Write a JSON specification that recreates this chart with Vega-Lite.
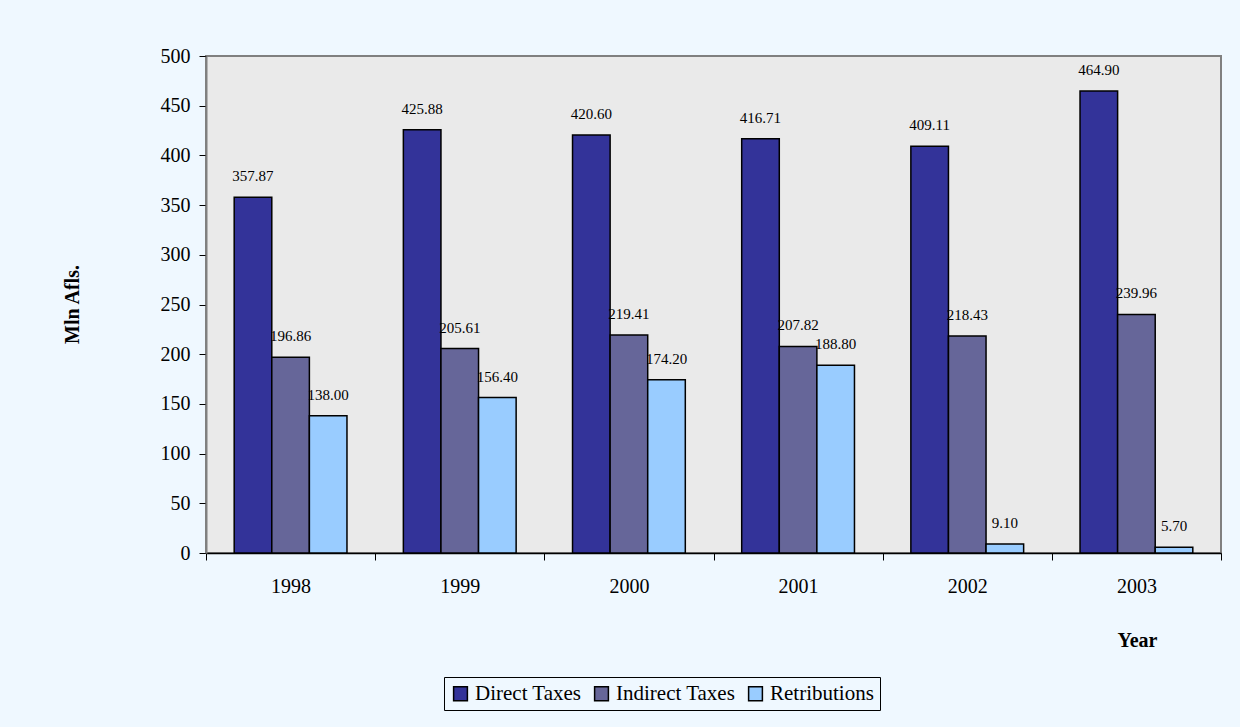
{
  "$schema": "https://vega.github.io/schema/vega-lite/v6.json",
  "width": 1015,
  "height": 497,
  "autosize": {"type": "none"},
  "padding": {"left": 206, "top": 56, "right": 19, "bottom": 174},
  "background": "#EFF8FF",
  "config": {
    "font": "Liberation Serif",
    "view": {"fill": "#EAEAEA", "stroke": "#808080", "strokeWidth": 2},
    "legend": {"labelFont": "Liberation Serif"},
    "axis": {"labelFont": "Liberation Serif", "titleFont": "Liberation Serif"},
    "text": {"font": "Liberation Serif"}
  },
  "data": {
    "values": [
      {"year": "1998", "type": "Direct Taxes", "value": 357.87},
      {"year": "1998", "type": "Indirect Taxes", "value": 196.86},
      {"year": "1998", "type": "Retributions", "value": 138.00},
      {"year": "1999", "type": "Direct Taxes", "value": 425.88},
      {"year": "1999", "type": "Indirect Taxes", "value": 205.61},
      {"year": "1999", "type": "Retributions", "value": 156.40},
      {"year": "2000", "type": "Direct Taxes", "value": 420.60},
      {"year": "2000", "type": "Indirect Taxes", "value": 219.41},
      {"year": "2000", "type": "Retributions", "value": 174.20},
      {"year": "2001", "type": "Direct Taxes", "value": 416.71},
      {"year": "2001", "type": "Indirect Taxes", "value": 207.82},
      {"year": "2001", "type": "Retributions", "value": 188.80},
      {"year": "2002", "type": "Direct Taxes", "value": 409.11},
      {"year": "2002", "type": "Indirect Taxes", "value": 218.43},
      {"year": "2002", "type": "Retributions", "value": 9.10},
      {"year": "2003", "type": "Direct Taxes", "value": 464.90},
      {"year": "2003", "type": "Indirect Taxes", "value": 239.96},
      {"year": "2003", "type": "Retributions", "value": 5.70}
    ]
  },
  "encoding": {
    "x": {
      "field": "year",
      "type": "nominal",
      "scale": {"paddingInner": 0, "paddingOuter": 0},
      "axis": {
        "labelAngle": 0,
        "tickBand": "extent",
        "tickSize": 7,
        "tickColor": "#000",
        "domainColor": "#000",
        "domainWidth": 1.5,
        "labelFontSize": 20,
        "labelColor": "#000",
        "labelPadding": 16,
        "title": "Year",
        "titleFontSize": 20,
        "titleFontWeight": "bold",
        "titleColor": "#000",
        "titleX": 931,
        "titleY": 87,
        "titleAlign": "center",
        "titleBaseline": "middle"
      }
    },
    "xOffset": {
      "field": "type",
      "type": "nominal",
      "sort": ["Direct Taxes", "Indirect Taxes", "Retributions"],
      "scale": {"paddingOuter": 0.75, "paddingInner": 0}
    },
    "y": {
      "field": "value",
      "type": "quantitative",
      "scale": {"domain": [0, 500], "nice": false},
      "axis": {
        "values": [0, 50, 100, 150, 200, 250, 300, 350, 400, 450, 500],
        "grid": false,
        "tickSize": 7,
        "tickColor": "#000",
        "domainColor": "#808080",
        "domainWidth": 2,
        "labelFontSize": 20,
        "labelColor": "#000",
        "labelPadding": 9,
        "title": "Mln Afls.",
        "titleFontSize": 20,
        "titleFontWeight": "bold",
        "titleColor": "#000",
        "titleX": -134,
        "titleY": 248,
        "titleAngle": -90,
        "titleAlign": "center",
        "titleBaseline": "middle"
      }
    }
  },
  "layer": [
    {
      "mark": {"type": "bar", "stroke": "#000", "strokeWidth": 1.5},
      "encoding": {
        "color": {
          "field": "type",
          "type": "nominal",
          "sort": ["Direct Taxes", "Indirect Taxes", "Retributions"],
          "scale": {
            "domain": ["Direct Taxes", "Indirect Taxes", "Retributions"],
            "range": ["#333399", "#666699", "#99CCFF"]
          },
          "legend": {
            "title": null,
            "orient": "none",
            "direction": "horizontal",
            "legendX": 238,
            "legendY": 621,
            "symbolType": "square",
            "symbolSize": 190,
            "symbolStrokeColor": "#000",
            "symbolStrokeWidth": 1.5,
            "symbolOpacity": 1,
            "labelFont": "Liberation Serif",
            "labelFontSize": 21,
            "labelColor": "#000",
            "labelOffset": 4,
            "columnPadding": 9,
            "padding": 6,
            "strokeColor": "#000",
            "fillColor": "#EFF8FF",
            "labelLimit": 300
          }
        }
      }
    },
    {
      "mark": {"type": "text", "baseline": "bottom", "dy": -13, "fontSize": 15, "color": "#000", "font": "Liberation Serif"},
      "encoding": {
        "text": {"field": "value", "type": "quantitative", "format": ".2f"}
      }
    }
  ]
}
